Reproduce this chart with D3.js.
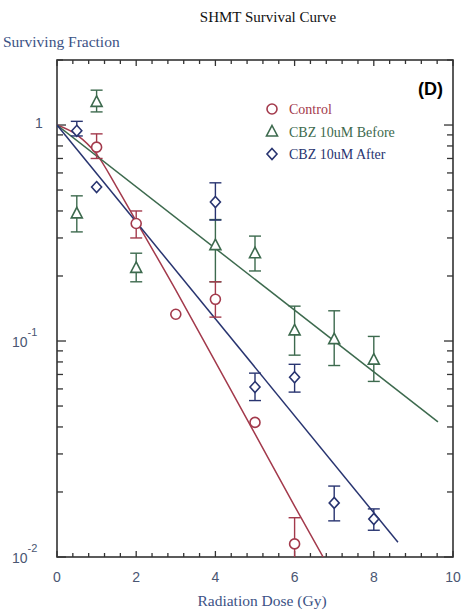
<!DOCTYPE html>
<html>
<head>
<meta charset="utf-8">
<script src="https://cdn.jsdelivr.net/npm/d3@7"></script>
<style>
  body { margin: 0; background: #fff; }
  svg { display: block; }
</style>
</head>
<body>
<script>
// measured points (dose in Gy, surviving fraction)
const control_dose = [1, 2, 3, 4, 5, 6];
const control_val  = [0.79, 0.35, 0.133, 0.156, 0.042, 0.0115];
const control_hi   = [0.91, 0.40, null, 0.188, null, 0.0152];
const control_lo   = [0.70, 0.30, null, 0.129, null, 0.0085];

const before_dose = [0.5, 1, 2, 4, 5, 6, 7, 8];
const before_val  = [0.39, 1.28, 0.218, 0.278, 0.255, 0.112, 0.102, 0.082];
const before_hi   = [0.47, 1.45, 0.255, 0.365, 0.306, 0.145, 0.138, 0.105];
const before_lo   = [0.32, 1.15, 0.188, 0.188, 0.211, 0.086, 0.077, 0.065];

const after_dose = [0.5, 1, 4, 5, 6, 7, 8];
const after_val  = [0.94, 0.516, 0.44, 0.0612, 0.068, 0.0178, 0.015];
const after_hi   = [1.04, null, 0.54, 0.071, 0.078, 0.0213, 0.0167];
const after_lo   = [0.89, null, 0.363, 0.053, 0.058, 0.0147, 0.0133];

// fitted curves
const control_fit_dose = [0, 0.5, 1, 1.5, 2, 3, 4, 5, 6, 6.72];
const control_fit_val  = [1, 0.90, 0.733, 0.519, 0.359, 0.172, 0.080, 0.0372, 0.0172, 0.01];
const before_fit_dose = [0, 9.62];
const before_fit_val  = [1, 0.0422];
const after_fit_dose = [0, 8.61];
const after_fit_val  = [1, 0.0117];

const x_ticks = [0, 2, 4, 6, 8, 10];
const y_ticks = [0.01, 0.1, 1];
const y_tick_labels = [['10', '-2'], ['10', '-1'], ['1', '']];
const legend_names = ['Control', 'CBZ 10uM Before', 'CBZ 10uM After'];

const red = '#a33a4c', green = '#3d6a4e', blue = '#283470';
const w = 472, h = 616;
const marginTop = 60, marginBottom = 59, marginLeft = 57, marginRight = 19;

const x = d3.scaleLinear().domain([0, 10]).range([marginLeft, w - marginRight]);
const y = d3.scaleLog().domain([0.01, 2]).range([h - marginBottom, marginTop]);

const svg = d3.select('body').append('svg').attr('width', w).attr('height', h);

svg.append('defs').append('clipPath').attr('id', 'plot-clip')
    .append('rect')
    .attr('x', x(0)).attr('y', y(2))
    .attr('width', x(10) - x(0)).attr('height', y(0.01) - y(2));

// ticks on all four sides, pointing inward
const minor_x = d3.range(0, 10.01, 0.4).map(v => +v.toFixed(1));
const minor_y = [];
[0.01, 0.1, 1].forEach(base => d3.range(2, 10).forEach(m => { if (base * m <= 2) minor_y.push(base * m); }));

const ticks = svg.append('g').attr('stroke', '#333').attr('stroke-width', 1.3);
minor_x.forEach(v => {
    const major = x_ticks.includes(v);
    const len = major ? 6 : 4;
    ticks.append('line').attr('x1', x(v)).attr('x2', x(v)).attr('y1', y(0.01)).attr('y2', y(0.01) - len);
    ticks.append('line').attr('x1', x(v)).attr('x2', x(v)).attr('y1', y(2)).attr('y2', y(2) + len);
});
y_ticks.concat(minor_y).forEach(v => {
    const len = y_ticks.includes(v) ? 9 : 6;
    ticks.append('line').attr('x1', x(0)).attr('x2', x(0) + len).attr('y1', y(v)).attr('y2', y(v));
    ticks.append('line').attr('x1', x(10)).attr('x2', x(10) - len).attr('y1', y(v)).attr('y2', y(v));
});

svg.append('rect')
    .attr('x', x(0)).attr('y', y(2))
    .attr('width', x(10) - x(0)).attr('height', y(0.01) - y(2))
    .attr('fill', 'none').attr('stroke', '#333').attr('stroke-width', 1.6);

// tick labels
svg.append('g')
    .selectAll('text')
    .data(x_ticks)
    .join('text')
    .attr('x', d => x(d))
    .attr('y', y(0.01) + 25)
    .attr('text-anchor', 'middle')
    .attr('font-family', 'Liberation Sans, Arial, sans-serif')
    .attr('font-size', 14)
    .attr('fill', '#4a5672')
    .text(d => d);

const ylab = svg.append('g')
    .attr('font-family', 'Liberation Sans, Arial, sans-serif')
    .attr('fill', '#4a5672');
y_ticks.forEach((v, i) => {
    const t = ylab.append('text')
        .attr('x', i === 2 ? 35 : 12)
        .attr('y', y(v) + (i === 2 ? 3 : 6))
        .attr('font-size', 14)
        .text(y_tick_labels[i][0]);
    if (y_tick_labels[i][1]) {
        t.append('tspan').attr('dy', -11).attr('font-size', 11).text(y_tick_labels[i][1]);
    }
});

// fit lines
const line = d3.line().x(d => x(d[0])).y(d => y(d[1]));
const fits = [
    [d3.zip(control_fit_dose, control_fit_val), red],
    [d3.zip(before_fit_dose, before_fit_val), green],
    [d3.zip(after_fit_dose, after_fit_val), blue]
];
fits.forEach(([pts, col]) => {
    svg.append('path')
        .datum(pts)
        .attr('clip-path', 'url(#plot-clip)')
        .attr('fill', 'none')
        .attr('stroke', col)
        .attr('stroke-width', 1.5)
        .attr('d', line.curve(pts.length > 2 ? d3.curveMonotoneX : d3.curveLinear));
});

// points with error bars
const symbols = {
    circle: (g, cx, cy, col) => g.append('circle').attr('cx', cx).attr('cy', cy).attr('r', 5)
        .attr('fill', '#fff').attr('stroke', col).attr('stroke-width', 1.6),
    triangle: (g, cx, cy, col) => g.append('path')
        .attr('d', `M${cx},${cy - 6}L${cx + 5.5},${cy + 4.5}L${cx - 5.5},${cy + 4.5}Z`)
        .attr('fill', '#fff').attr('stroke', col).attr('stroke-width', 1.6),
    diamond: (g, cx, cy, col) => g.append('path')
        .attr('d', `M${cx},${cy - 5.5}L${cx + 5},${cy}L${cx},${cy + 5.5}L${cx - 5},${cy}Z`)
        .attr('fill', '#fff').attr('stroke', col).attr('stroke-width', 1.6)
};

const draw_series = (doses, vals, hi, lo, col, sym) => {
    const g = svg.append('g').attr('clip-path', 'url(#plot-clip)');
    doses.forEach((d, i) => {
        const cx = x(d);
        if (hi[i] != null) {
            const eb = g.append('g').attr('stroke', col).attr('stroke-width', 1.4);
            eb.append('line').attr('x1', cx).attr('x2', cx).attr('y1', y(hi[i])).attr('y2', y(lo[i]));
            eb.append('line').attr('x1', cx - 6).attr('x2', cx + 6).attr('y1', y(hi[i])).attr('y2', y(hi[i]));
            eb.append('line').attr('x1', cx - 6).attr('x2', cx + 6).attr('y1', y(lo[i])).attr('y2', y(lo[i]));
        }
        symbols[sym](g, cx, y(vals[i]), col);
    });
};

draw_series(before_dose, before_val, before_hi, before_lo, green, 'triangle');
draw_series(after_dose, after_val, after_hi, after_lo, blue, 'diamond');
draw_series(control_dose, control_val, control_hi, control_lo, red, 'circle');

// legend
const legend = svg.append('g');
[[red, 'circle'], [green, 'triangle'], [blue, 'diamond']].forEach(([col, sym], i) => {
    const ly = 109 + i * 22.5;
    symbols[sym](legend, 272, ly, col);
    legend.append('text')
        .attr('x', 289).attr('y', ly + 5)
        .attr('font-family', 'Liberation Serif, Times New Roman, serif')
        .attr('font-size', 14)
        .attr('fill', col)
        .text(legend_names[i]);
});

svg.append('text')
    .attr('x', 443).attr('y', 95)
    .attr('text-anchor', 'end')
    .attr('font-family', 'Liberation Sans, Arial, sans-serif')
    .attr('font-weight', 'bold')
    .attr('font-size', 18)
    .text('(D)');

// titles
svg.append('text')
    .attr('x', 268).attr('y', 22)
    .attr('text-anchor', 'middle')
    .attr('font-family', 'Liberation Serif, Times New Roman, serif')
    .attr('font-size', 15)
    .attr('fill', '#111')
    .text('SHMT Survival Curve');

svg.append('text')
    .attr('x', 3).attr('y', 47)
    .attr('font-family', 'Liberation Serif, Times New Roman, serif')
    .attr('font-size', 15.5)
    .attr('fill', '#3b5285')
    .text('Surviving Fraction');

svg.append('text')
    .attr('x', 262).attr('y', 606)
    .attr('text-anchor', 'middle')
    .attr('font-family', 'Liberation Serif, Times New Roman, serif')
    .attr('font-size', 15.5)
    .attr('fill', '#3b5285')
    .text('Radiation Dose (Gy)');
</script>
</body>
</html>
